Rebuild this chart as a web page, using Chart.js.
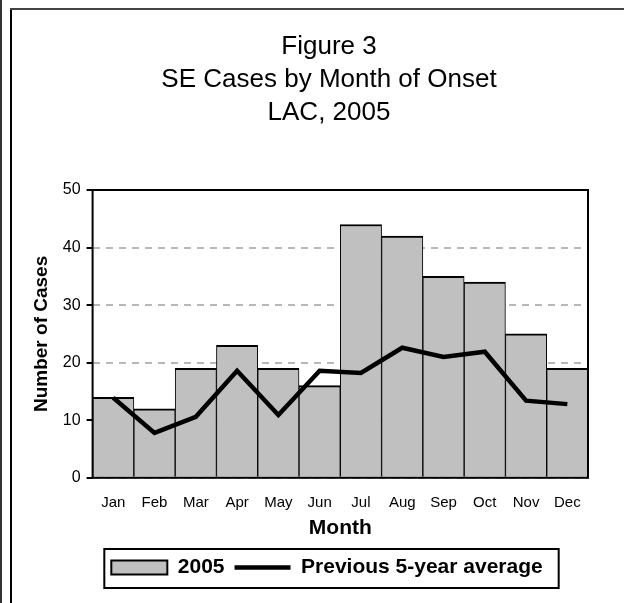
<!DOCTYPE html>
<html>
<head>
<meta charset="utf-8">
<script src="https://cdn.jsdelivr.net/npm/chart.js@4/dist/chart.umd.min.js"></script>
<style>
  body { margin: 0; background: #fff; }
  #wrap { position: relative; width: 624px; height: 603px; overflow: hidden; }
  .rule { position: absolute; }
  #seChart { position: absolute; left: 0; top: 0; }
</style>
</head>
<body>
<div id="wrap">
  <div class="rule" style="left:0;top:0;width:2px;height:603px;background:#333;"></div>
  <div class="rule" style="left:10px;top:8px;width:2px;height:595px;background:#000;"></div>
  <div class="rule" style="left:10px;top:8px;width:614px;height:2px;background:#444;"></div>
  <canvas id="seChart" width="624" height="603"></canvas>
</div>
<script>
const months = ['Jan', 'Feb', 'Mar', 'Apr', 'May', 'Jun', 'Jul', 'Aug', 'Sep', 'Oct', 'Nov', 'Dec'];
const cases2005 = [14, 12, 19, 23, 19, 16, 44, 42, 35, 34, 25, 19];
const prevAverage = [13.9, 7.8, 10.6, 18.6, 10.9, 18.6, 18.2, 22.6, 21.0, 21.9, 13.4, 12.8];
const titleLines = ['Figure 3', 'SE Cases by Month of Onset', 'LAC, 2005'];

const FONT = "'Liberation Sans', Arial, sans-serif";

// Title and legend sit a bit right of the canvas centre in the original
const nudgeBoxes = {
  id: 'nudgeBoxes',
  afterLayout(chart) {
    chart.titleBlock.left += 25;
    chart.titleBlock.right += 25;
    chart.legend.left += 23;
    chart.legend.right += 23;
  }
};

// Black frame round the plot area and the box round the legend
const frames = {
  id: 'frames',
  afterDraw(chart) {
    const ctx = chart.ctx;
    const a = chart.chartArea;
    ctx.save();
    ctx.strokeStyle = '#000';
    ctx.lineWidth = 2;
    ctx.strokeRect(a.left, a.top, a.right - a.left, a.bottom - a.top);

    const hits = chart.legend.legendHitBoxes;
    if (hits && hits.length) {
      const first = hits[0];
      const last = hits[hits.length - 1];
      const mid = first.top + first.height / 2;
      const x1 = first.left - 7;
      const x2 = last.left + last.width + 16;
      ctx.strokeRect(x1, mid - 18.5, x2 - x1, 39);
    }
    ctx.restore();
  }
};

const ctx = document.getElementById('seChart').getContext('2d');
new Chart(ctx, {
  type: 'bar',
  data: {
    labels: months,
    datasets: [{
      type: 'bar',
      label: '2005',
      data: cases2005,
      backgroundColor: '#c0c0c0',
      borderColor: '#000',
      borderWidth: { top: 2, left: 1, right: 1, bottom: 0 },
      borderSkipped: false,
      categoryPercentage: 1,
      barPercentage: 1,
      order: 1
    }, {
      type: 'line',
      label: 'Previous 5-year average',
      data: prevAverage,
      borderColor: '#000',
      backgroundColor: '#000',
      borderWidth: 4.5,
      pointRadius: 0,
      tension: 0,
      order: 0
    }]
  },
  options: {
    responsive: false,
    devicePixelRatio: 1,
    animation: false,
    layout: { padding: { top: 10, left: 20, right: 36, bottom: 15 } },
    scales: {
      x: {
        // invisible tick marks give the gap under the axis
        grid: { display: true, drawOnChartArea: false, drawTicks: true, tickLength: 16, tickColor: 'rgba(0,0,0,0)' },
        border: { display: false },
        ticks: { color: '#000', padding: 0, font: { family: FONT, size: 15 } },
        title: {
          display: true,
          text: 'Month',
          color: '#000',
          padding: { top: 4, bottom: 6 },
          font: { family: FONT, size: 21, weight: 'bold' }
        }
      },
      y: {
        min: 0,
        max: 50,
        grid: {
          color: '#b8b8b8',
          lineWidth: 2,
          tickColor: '#000',
          tickWidth: 2,
          tickLength: 6
        },
        border: { display: false, dash: [7, 6] },
        ticks: { stepSize: 10, color: '#000', padding: 6, font: { family: FONT, size: 16 } },
        title: {
          display: true,
          text: 'Number of Cases',
          color: '#000',
          padding: { top: 10, bottom: 4 },
          font: { family: FONT, size: 19, weight: 'bold' }
        }
      }
    },
    plugins: {
      title: {
        display: true,
        text: titleLines,
        color: '#000',
        padding: { top: 20, bottom: 61 },
        font: { family: FONT, size: 26, weight: 'normal', lineHeight: 33 / 26 }
      },
      legend: {
        display: true,
        position: 'bottom',
        labels: {
          color: '#000',
          padding: 10,
          usePointStyle: true,
          pointStyleWidth: 56,
          boxHeight: 14,
          font: { family: FONT, size: 21, weight: 'bold' },
          generateLabels(chart) {
            const items = Chart.defaults.plugins.legend.labels.generateLabels(chart);
            items.sort((a, b) => a.datasetIndex - b.datasetIndex);
            items.forEach(item => {
              if (item.datasetIndex === 0) {
                item.pointStyle = 'rect';
                item.lineWidth = 2;
                item.fillStyle = '#c0c0c0';
                item.strokeStyle = '#000';
              } else {
                item.pointStyle = 'line';
                item.lineWidth = 4.5;
                item.strokeStyle = '#000';
              }
            });
            return items;
          }
        }
      },
      tooltip: { enabled: false }
    }
  },
  plugins: [nudgeBoxes, frames]
});
</script>
</body>
</html>
